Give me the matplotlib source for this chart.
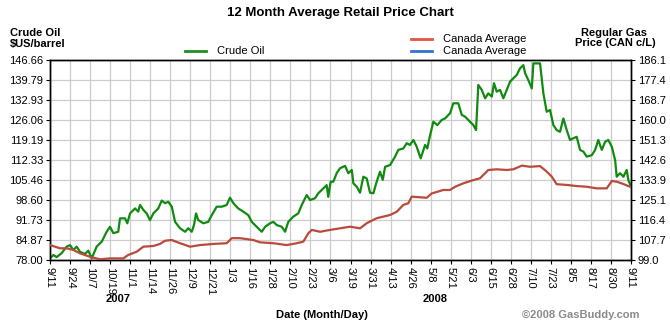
import numpy as np
import matplotlib
matplotlib.use("Agg")
import matplotlib.pyplot as plt
from matplotlib.lines import Line2D

plt.rcParams["font.family"] = ["Liberation Sans", "DejaVu Sans"]

# x values are days since 9/11/2007
tick_labels = ["9/11", "9/24", "10/7", "10/19", "11/1", "11/14", "11/26", "12/9", "12/21",
               "1/3", "1/16", "1/28", "2/10", "2/23", "3/6", "3/19", "3/31", "4/13", "4/26",
               "5/8", "5/21", "6/3", "6/15", "6/28", "7/10", "7/23", "8/5", "8/17", "8/30", "9/11"]
left_ticks = [78.00, 84.87, 91.73, 98.60, 105.46, 112.33, 119.19, 126.06, 132.93, 139.79, 146.66]
right_ticks = [99.0, 107.7, 116.4, 125.1, 133.9, 142.6, 151.3, 160.0, 168.7, 177.4, 186.1]

oil_days = [0, 2.1, 4.2, 7.4, 10.5, 12.6, 14.7, 16.8, 18.9, 22.1, 24.1, 26.3, 29.4, 32.6, 35.7,
            37.8, 39.9, 43.0, 44.1, 47.3, 48.7, 50.4, 53.6, 55.6, 56.7, 58.8, 60.9, 63.0, 65.1,
            68.2, 70.4, 72.5, 74.5, 76.7, 78.8, 81.9, 85.1, 87.1, 89.3, 90.7, 92.0, 93.4, 96.6,
            99.7, 101.9, 105.0, 108.2, 111.3, 113.4, 115.5, 118.6, 121.8, 124.9, 127.1, 130.2,
            133.4, 135.5, 138.6, 140.7, 142.8, 146.0, 148.1, 150.1, 153.3, 156.4, 158.6, 161.7,
            163.8, 167.0, 169.0, 172.2, 174.3, 175.3, 176.8, 178.5, 180.6, 182.7, 185.9, 187.9,
            190.1, 191.1, 193.2, 195.3, 197.4, 199.5, 201.6, 203.7, 205.8, 207.9, 209.6, 211.1,
            214.2, 217.4, 219.4, 222.6, 224.7, 226.8, 228.9, 231.0, 233.5, 236.3, 237.7, 239.0,
            241.5, 244.0, 246.8, 248.9, 252.0, 254.1, 257.2, 259.4, 261.5, 264.6, 266.7, 268.4,
            269.8, 272.0, 274.1, 276.1, 278.3, 279.7, 281.4, 283.5, 285.6, 287.7, 289.8, 291.9,
            294.0, 296.1, 298.2, 299.3, 301.3, 303.5, 304.5, 306.6, 308.7, 310.8, 312.9, 315.0,
            317.1, 319.2, 321.3, 323.4, 325.5, 327.6, 329.7, 331.8, 333.9, 336.0, 338.1, 341.3,
            343.4, 345.4, 347.6, 349.7, 351.7, 353.9, 356.0, 357.0, 359.1, 361.2, 363.3, 364.3,
            366.0]
oil_price = [78.6, 79.7, 79.0, 80.4, 82.6, 83.1, 81.4, 82.6, 80.8, 80.1, 81.2, 78.6, 82.6, 84.3,
             87.7, 89.4, 87.2, 87.7, 92.3, 92.3, 90.6, 94.0, 95.7, 94.6, 96.9, 95.2, 94.0, 91.7,
             94.0, 95.7, 98.4, 97.5, 98.0, 96.3, 91.1, 88.9, 87.7, 88.9, 87.7, 90.0, 94.0, 91.7,
             90.6, 91.1, 93.4, 96.3, 96.3, 96.9, 99.4, 97.5, 95.7, 94.6, 93.4, 91.1, 89.4, 87.7,
             89.4, 90.6, 91.1, 90.0, 89.4, 87.7, 91.1, 92.9, 94.0, 96.9, 100.3, 98.6, 99.2, 100.9,
             102.6, 103.7, 99.7, 104.9, 104.9, 107.8, 109.5, 110.3, 107.8, 108.9, 104.3, 103.2,
             101.1, 106.6, 106.0, 101.1, 100.9, 104.9, 108.3, 105.5, 110.0, 110.6, 113.5, 115.8,
             116.3, 118.1, 117.5, 119.2, 116.9, 112.9, 117.5, 116.3, 119.8, 125.5, 124.3, 126.1,
             126.6, 128.4, 131.8, 131.8, 127.8, 127.2, 125.5, 124.3, 122.6, 138.1, 136.4, 133.5,
             135.2, 134.1, 138.7, 135.8, 136.4, 133.5, 136.4, 139.2, 140.4, 141.5, 143.8, 144.9,
             142.1, 139.8, 136.9, 145.5, 145.5, 145.5, 135.2, 128.9, 129.5, 124.3, 122.6, 122.0,
             126.6, 122.6, 119.2, 119.8, 120.3, 115.8, 115.2, 113.5, 114.0, 115.8, 119.2, 115.8,
             118.6, 119.2, 116.9, 112.3, 106.6, 107.8, 106.6, 108.9, 105.5, 103.2]

gas_days = [0, 6.3, 10.5, 14.7, 18.9, 25.2, 31.5, 37.8, 46.2, 49.3, 54.6, 58.8, 65.1, 69.3, 72.5,
            76.7, 81.9, 88.2, 94.5, 102.9, 111.3, 114.5, 119.7, 128.1, 132.3, 140.7, 149.1, 155.4,
            159.6, 162.7, 164.9, 170.1, 176.4, 182.7, 189.0, 195.3, 199.5, 205.8, 214.2, 218.4,
            222.6, 225.7, 227.9, 237.3, 240.5, 247.8, 252.0, 255.2, 260.4, 266.7, 270.9, 276.1,
            281.4, 287.7, 291.9, 297.2, 302.4, 308.7, 312.9, 316.1, 319.2, 325.5, 331.8, 338.1,
            344.4, 350.7, 353.9, 357.0, 361.2, 366.0]
gas_price = [105.5, 104.1, 104.1, 103.4, 101.9, 100.4, 99.3, 99.7, 99.7, 101.2, 102.6, 104.8,
             105.1, 106.0, 107.4, 107.7, 106.3, 104.8, 105.5, 106.0, 106.3, 108.5, 108.5, 107.7,
             106.7, 106.3, 105.5, 106.3, 107.0, 110.6, 112.1, 111.3, 112.1, 112.8, 113.5, 112.8,
             115.0, 117.2, 118.6, 120.0, 123.0, 123.7, 126.6, 126.1, 128.0, 129.5, 129.5, 130.9,
             132.4, 133.8, 134.6, 138.2, 138.5, 138.2, 138.5, 140.1, 139.6, 139.9, 137.5, 135.3,
             132.0, 131.7, 131.2, 130.9, 130.2, 130.2, 133.4, 133.1, 132.1, 130.7]

fig = plt.figure(figsize=(6.7, 3.25), dpi=100)
ax = fig.add_axes([50 / 670, 65 / 325, 581 / 670, 200 / 325])
ax2 = ax.twinx()

tick_pos = np.arange(len(tick_labels)) * 366 / (len(tick_labels) - 1)

ax.plot(oil_days, oil_price, color="#118a11", lw=1.6, zorder=3)
ax2.plot(gas_days, gas_price, color="#b94a3c", lw=1.6, zorder=3)

ax.set_xlim(0, 366)
ax.set_ylim(left_ticks[0], left_ticks[-1])
ax2.set_ylim(right_ticks[0], right_ticks[-1])
ax.set_yticks(left_ticks)
ax.set_yticklabels([f"{v:.2f}" for v in left_ticks])
ax2.set_yticks(right_ticks)
ax2.set_yticklabels([f"{v:.1f}" for v in right_ticks])
ax.set_xticks(tick_pos)
ax.set_xticklabels(tick_labels, rotation=270, fontsize=8)
ax.grid(True, color="#cccccc", lw=0.9)
ax.set_axisbelow(True)
ax.tick_params(axis="y", labelsize=8, length=3, pad=2)
ax.tick_params(axis="x", length=3, pad=2)
ax2.tick_params(axis="y", labelsize=8, length=3, pad=2)
for a in (ax, ax2):
    for s in a.spines.values():
        s.set_color("black")
        s.set_linewidth(1.0)

# titles and labels
fig.text(340 / 670, 1 - 13 / 325, "12 Month Average Retail Price Chart", ha="center", va="center",
         fontsize=9.5, fontweight="bold")
fig.text(10 / 670, 1 - 32.5 / 325, "Crude Oil", ha="left", va="center", fontsize=8, fontweight="bold")
fig.text(10 / 670, 1 - 43.5 / 325, "$US/barrel", ha="left", va="center", fontsize=8, fontweight="bold")
fig.text(614 / 670, 1 - 32.5 / 325, "Regular Gas", ha="center", va="center", fontsize=8,
         fontweight="bold")
fig.text(615 / 670, 1 - 43.5 / 325, "Price (CAN c/L)", ha="center", va="center", fontsize=8,
         fontweight="bold")
fig.text(118 / 670, 1 - 299 / 325, "2007", ha="center", va="center", fontsize=8, fontweight="bold")
fig.text(435 / 670, 1 - 299 / 325, "2008", ha="center", va="center", fontsize=8, fontweight="bold")
fig.text(322 / 670, 1 - 315 / 325, "Date (Month/Day)", ha="center", va="center", fontsize=8,
         fontweight="bold")
fig.text(640 / 670, 1 - 315 / 325, "\u00a92008 GasBuddy.com", ha="right", va="center", fontsize=8,
         color="#8a8a8a", fontweight="bold")

# legend
legend_items = [("Crude Oil", "#1e8f1e", 185, 51), ("Canada Average", "#e2553e", 411, 39),
                ("Canada Average", "#2f73d4", 411, 51)]
for label, col, lx, ly in legend_items:
    yy = 1 - ly / 325
    fig.add_artist(Line2D([lx / 670, (lx + 21) / 670], [yy, yy], color=col, lw=2,
                          transform=fig.transFigure))
    fig.text((lx + 32) / 670, yy, label, ha="left", va="center", fontsize=8)

fig.savefig("out.png", dpi=100)
